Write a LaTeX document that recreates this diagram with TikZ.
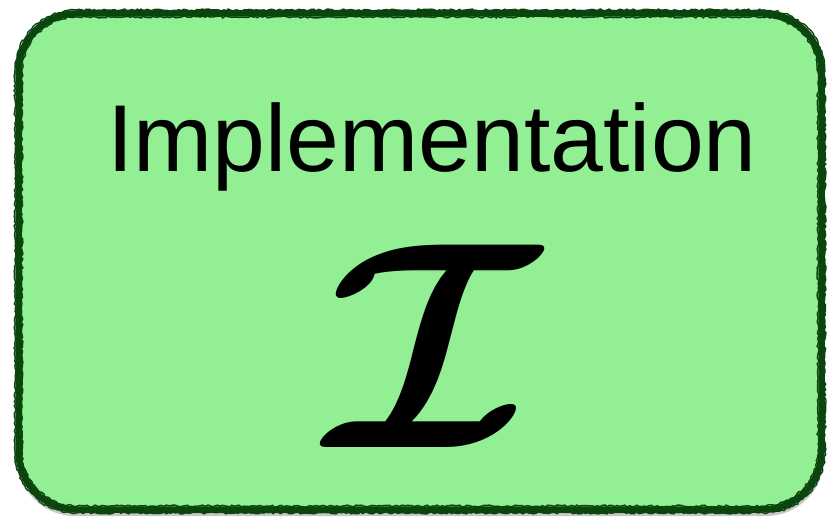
\documentclass[tikz,border=0pt]{standalone}
\usepackage{fontspec}
\usepackage{graphicx}
\usepackage{bm}
\setsansfont{Liberation Sans}
\usetikzlibrary{decorations.pathmorphing}
\definecolor{boxfill}{HTML}{92EF94}
\definecolor{boxline}{HTML}{0B450E}
\newcommand{\rrpath}[5]{(#1+#5,#2) -- (#3-#5,#2) arc[start angle=-90,end angle=0,radius=#5] -- (#3,#4-#5) arc[start angle=0,end angle=90,radius=#5] -- (#1+#5,#4) arc[start angle=90,end angle=180,radius=#5] -- (#1,#2+#5) arc[start angle=180,end angle=270,radius=#5] -- cycle}
\tikzset{
  card/.style={draw=boxline, line width=6.5pt, fill=boxfill},
  rough/.style={draw=boxline, line width=1.4pt,
    decorate, decoration={random steps, segment length=2.5pt, amplitude=1pt}},
  lbl/.style={inner sep=0pt, anchor=base, font=\sffamily\fontsize{95}{95}\selectfont}
}
\begin{document}
\begin{tikzpicture}[x=1pt,y=1pt]
\useasboundingbox (0,0) rectangle (828,523);
\fill[black!22] \rrpath{17}{7}{824}{506}{58};
\path[card] \rrpath{18.5}{13.5}{821.5}{509.5}{58};
\path[rough] \rrpath{15}{10}{825}{513}{61};
\path[rough] \rrpath{22}{17}{818}{506}{55};
\node[lbl] (title) at (432,351) {Implementation};
\node[inner sep=0pt, anchor=base] (sym) at (433,75) {\smash{\scalebox{29.5}{$\bm{\mathcal{I}}$}}};
\end{tikzpicture}
\end{document}
